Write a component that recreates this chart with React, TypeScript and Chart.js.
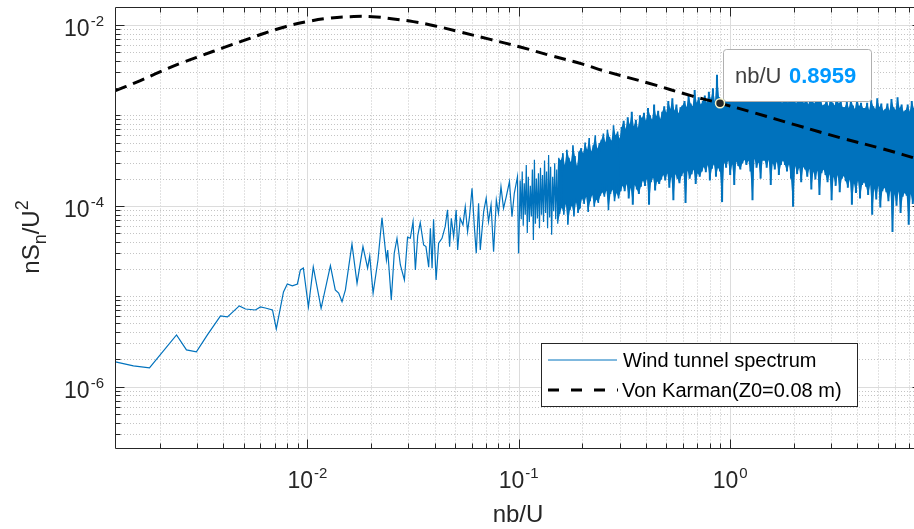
import React, { useEffect, useRef } from "react";
import { Chart, registerables } from "chart.js";

Chart.register(...registerables);

const FONT = '"Liberation Sans", Arial, Helvetica, sans-serif';
const CW = 922;
const CH = 529;

// axis ranges (nb/U and nSn/U^2)
const xRange = [1.23e-3, 8.0];
const yRange = [2.09e-7, 1.56e-2];
const xTickExps = [-2, -1, 0];
const yTickExps = [-6, -4, -2];

// low-frequency part of the wind tunnel spectrum (log10 of nb/U, log10 of nSn/U^2)
const lowFreqExp = [
  -2.908, -2.823, -2.747, -2.619, -2.572, -2.525, -2.473, -2.411, -2.378, -2.322,
  -2.293, -2.246, -2.222, -2.199, -2.165, -2.147, -2.113, -2.095, -2.071, -2.047,
  -2.033, -2.019, -1.995, -1.972, -1.935, -1.891, -1.868, -1.852, -1.836, -1.82,
  -1.789, -1.765, -1.737, -1.715, -1.705, -1.689, -1.666, -1.647, -1.626, -1.62,
  -1.603, -1.589, -1.576, -1.56, -1.541, -1.526, -1.513, -1.5, -1.489, -1.478,
  -1.466, -1.45, -1.439, -1.426, -1.418, -1.41, -1.403, -1.391, -1.379, -1.363,
  -1.348, -1.337, -1.327, -1.319, -1.308, -1.296, -1.289, -1.277, -1.264, -1.253,
  -1.242, -1.233, -1.221, -1.21, -1.201, -1.19, -1.182, -1.166, -1.154, -1.143,
  -1.131, -1.119, -1.106, -1.096, -1.084, -1.072, -1.059, -1.044, -1.032, -1.021,
  -1.006, -1.001,
];
const lowSpecExp = [
  -5.728, -5.772, -5.794, -5.429, -5.595, -5.617, -5.429, -5.219, -5.23, -5.108,
  -5.142, -5.153, -5.119, -5.131, -5.153, -5.363, -4.954, -4.865, -4.887, -4.865,
  -4.71, -4.688, -5.119, -4.677, -5.134, -4.663, -4.931, -4.965, -5.061, -4.931,
  -4.423, -4.857, -4.452, -4.691, -4.555, -4.968, -4.6, -4.132, -4.6, -4.489,
  -5.042, -4.525, -4.36, -4.655, -4.821, -4.348, -4.36, -4.176, -4.71, -4.334,
  -4.187, -4.434, -4.452, -4.68, -4.249, -4.691, -4.149, -4.821, -4.415, -4.36,
  -4.231, -4.046, -4.452, -4.138, -4.342, -4.046, -4.489, -4.138, -4.212, -4.01,
  -4.287, -4.121, -3.806, -4.231, -4.525, -3.972, -4.489, -4.065, -3.917, -4.176,
  -3.991, -4.508, -3.936, -4.083, -3.789, -4.028, -3.899, -3.733, -4.121, -3.862,
  -3.678, -4.525,
];

// dense high-frequency band: frequency bins span bandRange; successive bins alternate peak / trough readings
const bandRange = [0.1016, 7.99];
const bandSolidFrom = 0.15;
const bandPeakExp = [
  -3.72, -3.62, -3.75, -3.55, -3.68, -3.78, -3.6, -3.49, -3.7, -3.64,
  -3.58, -3.66, -3.5, -3.62, -3.44, -3.57, -3.68, -3.53, -3.6, -3.47,
  -3.5, -3.42, -3.55, -3.38, -3.47, -3.52, -3.33, -3.45, -3.56, -3.4,
  -3.36, -3.42, -3.3, -3.38, -3.25, -3.4, -3.33, -3.22, -3.37, -3.31,
  -3.27, -3.2, -3.3, -3.16, -3.24, -3.28, -3.11, -3.22, -3.18, -3.26,
  -3.13, -3.06, -3.15, -3.02, -3.1, -2.96, -3.12, -3.05, -3.14, -3.0,
  -3.03, -2.97, -3.06, -2.92, -3.0, -3.05, -2.88, -3.01, -2.95, -3.04,
  -2.96, -2.9, -2.97, -2.84, -2.93, -2.81, -2.95, -2.88, -2.98, -2.91,
  -2.89, -2.84, -2.91, -2.78, -2.87, -2.9, -2.72, -2.86, -2.8, -2.88,
  -2.84, -2.78, -2.86, -2.74, -2.82, -2.7, -2.85, -2.55, -2.8, -2.83,
  -2.82, -2.77, -2.84, -2.74, -2.8, -2.83, -2.72, -2.79, -2.85, -2.76,
  -2.8, -2.84, -2.76, -2.82, -2.78, -2.85, -2.74, -2.81, -2.79, -2.83,
  -2.83, -2.78, -2.85, -2.76, -2.81, -2.84, -2.75, -2.82, -2.79, -2.86,
  -2.84, -2.79, -2.86, -2.77, -2.83, -2.8, -2.87, -2.76, -2.82, -2.85,
  -2.86, -2.81, -2.88, -2.79, -2.84, -2.87, -2.77, -2.85, -2.82, -2.89,
  -2.88, -2.83, -2.9, -2.8, -2.86, -2.89, -2.78, -2.87, -2.84, -2.91,
  -2.91, -2.85, -2.92, -2.82, -2.89, -2.93, -2.8, -2.9, -2.86, -2.92,
  -2.92, -2.86, -2.94, -2.83, -2.9, -2.93, -2.81, -2.91, -2.87, -2.95,
  -2.93, -2.87, -2.95, -2.82, -2.91, -2.94, -2.8, -2.92, -2.88, -2.96,
  -2.94, -2.88, -2.96, -2.84, -2.92, -2.95, -2.82, -2.93,
];
const bandTroughExp = [
  -4.15, -4.22, -4.1, -4.3, -4.18, -4.12, -4.38, -4.2, -4.14, -4.25,
  -4.1, -4.18, -4.08, -4.25, -4.13, -4.32, -4.06, -4.15, -4.2, -4.09,
  -4.02, -4.1, -3.98, -4.21, -4.05, -4.0, -4.12, -3.96, -4.08, -4.03,
  -3.92, -3.98, -3.9, -4.07, -3.95, -3.88, -4.01, -3.93, -3.97, -3.89,
  -3.85, -3.9, -3.83, -4.05, -3.87, -3.82, -3.95, -3.86, -3.92, -3.84,
  -3.78, -3.84, -3.76, -3.92, -3.8, -3.99, -3.77, -3.82, -3.87, -3.79,
  -3.72, -3.78, -3.7, -3.99, -3.74, -3.69, -3.83, -3.73, -3.76, -3.71,
  -3.66, -3.72, -3.64, -3.8, -3.68, -3.94, -3.65, -3.7, -3.75, -3.67,
  -3.63, -3.97, -3.61, -3.7, -3.65, -3.6, -3.76, -3.64, -3.68, -3.62,
  -3.57, -3.63, -3.55, -3.72, -3.59, -3.54, -3.68, -3.58, -3.62, -3.96,
  -3.52, -3.58, -3.5, -3.66, -3.54, -3.77, -3.51, -3.56, -3.6, -3.53,
  -3.49, -3.55, -3.5, -3.62, -3.94, -3.48, -3.58, -3.52, -3.7, -3.5,
  -3.5, -3.58, -3.49, -3.77, -3.53, -3.6, -3.51, -3.66, -3.55, -3.5,
  -3.55, -3.62, -3.54, -3.7, -4.01, -3.56, -3.65, -3.58, -3.74, -3.57,
  -3.6, -3.68, -3.59, -3.82, -3.62, -3.71, -3.61, -3.88, -3.64, -3.6,
  -3.66, -3.74, -3.65, -3.94, -3.68, -3.78, -3.66, -3.85, -3.7, -3.67,
  -3.73, -3.8, -3.71, -3.99, -3.75, -3.86, -3.72, -3.92, -3.77, -3.74,
  -3.79, -3.88, -3.77, -4.1, -3.81, -3.93, -3.78, -4.02, -3.84, -3.8,
  -3.85, -3.95, -3.83, -4.29, -3.87, -4.0, -3.84, -4.08, -3.9, -3.86,
  -3.89, -4.21, -3.87, -3.98, -3.91, -3.88, -4.12, -3.9,
];

// Von Karman spectrum (Z0 = 0.08 m)
const vonKarmanX = [
  1.236e-3, 1.538e-3, 2.018e-3, 2.559e-3, 3.22e-3, 4.01e-3, 4.98e-3, 6.11e-3, 7.87e-3, 9.98e-3,
  1.256e-2, 1.596e-2, 2.023e-2, 2.553e-2, 3.17e-2, 4.03e-2, 5.28e-2, 7.33e-2, 0.1016, 0.141,
  0.199, 0.261, 0.409, 0.659, 0.8959, 1.243, 2.097, 3.31, 5.29, 8.0,
];
const vonKarmanY = [
  1.876e-3, 2.3e-3, 3.04e-3, 3.83e-3, 4.66e-3, 5.61e-3, 6.7e-3, 7.94e-3, 9.57e-3, 1.089e-2,
  1.186e-2, 1.236e-2, 1.236e-2, 1.165e-2, 1.089e-2, 9.75e-3, 8.37e-3, 6.92e-3, 5.71e-3, 4.6e-3,
  3.71e-3, 3.04e-3, 2.28e-3, 1.64e-3, 1.36e-3, 1.099e-3, 7.69e-4, 5.66e-4, 4.25e-4, 3.21e-4,
];
const tipIndex = 24;
const tipLabel = "nb/U";
const tipValue = "0.8959";
const legendLabels = ["Wind tunnel spectrum", "Von Karman(Z0=0.08 m)"];
const xTitle = "nb/U";

const BLUE = "#0072BD";
const AX = "#262626";
const MAIN_PX = 23;
const SUP_PX = 15;

function drawPow(ctx: CanvasRenderingContext2D, exp: number, x: number, baseline: number, align: "center" | "right") {
  const main = "10";
  const sup = String(exp);
  ctx.font = `${MAIN_PX}px ${FONT}`;
  const w1 = ctx.measureText(main).width;
  ctx.font = `${SUP_PX}px ${FONT}`;
  const w2 = ctx.measureText(sup).width;
  const total = w1 + w2 + 1;
  const start = align === "center" ? x - total / 2 : x - total;
  ctx.fillStyle = AX;
  ctx.textAlign = "left";
  ctx.textBaseline = "alphabetic";
  ctx.font = `${MAIN_PX}px ${FONT}`;
  ctx.fillText(main, start, baseline);
  ctx.font = `${SUP_PX}px ${FONT}`;
  ctx.fillText(sup, start + w1 + 1, baseline - 10.5);
}

const decorPlugin = {
  id: "matlabDecor",
  beforeDatasetsDraw(chart: any) {
    const ctx: CanvasRenderingContext2D = chart.ctx;
    const { left, right, top, bottom } = chart.chartArea;
    const xs = chart.scales.x;
    const ys = chart.scales.y;
    ctx.save();
    ctx.lineWidth = 1;
    ctx.strokeStyle = "#c4c4c4";
    ctx.setLineDash([1, 2]);
    for (let n = -4; n <= 1; n++) {
      for (let k = 1; k <= 9; k++) {
        const v = k * Math.pow(10, n);
        if (v <= xRange[0] || v >= xRange[1]) continue;
        if (k === 1 && xTickExps.includes(n)) continue;
        const p = Math.round(xs.getPixelForValue(v)) + 0.5;
        ctx.beginPath(); ctx.moveTo(p, top); ctx.lineTo(p, bottom); ctx.stroke();
      }
    }
    for (let n = -8; n <= -1; n++) {
      for (let k = 1; k <= 9; k++) {
        const v = k * Math.pow(10, n);
        if (v <= yRange[0] || v >= yRange[1]) continue;
        if (k === 1 && yTickExps.includes(n)) continue;
        const p = Math.round(ys.getPixelForValue(v)) + 0.5;
        ctx.beginPath(); ctx.moveTo(left, p); ctx.lineTo(right, p); ctx.stroke();
      }
    }
    ctx.setLineDash([]);
    ctx.strokeStyle = "#dcdcdc";
    xTickExps.forEach((e) => {
      const p = Math.round(xs.getPixelForValue(Math.pow(10, e))) + 0.5;
      ctx.beginPath(); ctx.moveTo(p, top); ctx.lineTo(p, bottom); ctx.stroke();
    });
    yTickExps.forEach((e) => {
      const p = Math.round(ys.getPixelForValue(Math.pow(10, e))) + 0.5;
      ctx.beginPath(); ctx.moveTo(left, p); ctx.lineTo(right, p); ctx.stroke();
    });
    ctx.restore();
  },
  afterDatasetsDraw(chart: any) {
    const ctx: CanvasRenderingContext2D = chart.ctx;
    const { left, right, top, bottom } = chart.chartArea;
    const xs = chart.scales.x;
    const ys = chart.scales.y;
    ctx.save();
    ctx.setLineDash([]);
    ctx.strokeStyle = AX;
    ctx.lineWidth = 1;
    const L = Math.round(left) + 0.5;
    const B = Math.round(bottom) + 0.5;
    const T = Math.floor(top) + 0.5;
    const R = Math.round(right) + 0.5;
    ctx.beginPath();
    ctx.moveTo(L, T); ctx.lineTo(L, B); ctx.lineTo(R, B); ctx.lineTo(R, T); ctx.closePath();
    ctx.stroke();
    ctx.beginPath();
    for (let n = -4; n <= 1; n++) {
      for (let k = 1; k <= 9; k++) {
        const v = k * Math.pow(10, n);
        if (v <= xRange[0] || v >= xRange[1]) continue;
        const major = k === 1 && xTickExps.includes(n);
        const len = major ? 9 : 5;
        const p = Math.round(xs.getPixelForValue(v)) + 0.5;
        ctx.moveTo(p, B); ctx.lineTo(p, B - len);
        ctx.moveTo(p, T); ctx.lineTo(p, T + len);
      }
    }
    for (let n = -8; n <= -1; n++) {
      for (let k = 1; k <= 9; k++) {
        const v = k * Math.pow(10, n);
        if (v <= yRange[0] || v >= yRange[1]) continue;
        const major = k === 1 && yTickExps.includes(n);
        const len = major ? 9 : 5;
        const p = Math.round(ys.getPixelForValue(v)) + 0.5;
        ctx.moveTo(L, p); ctx.lineTo(L + len, p);
        ctx.moveTo(R, p); ctx.lineTo(R - len, p);
      }
    }
    ctx.stroke();

    xTickExps.forEach((e) => {
      const p = xs.getPixelForValue(Math.pow(10, e));
      drawPow(ctx, e, p, bottom + 40, "center");
    });
    yTickExps.forEach((e) => {
      const p = ys.getPixelForValue(Math.pow(10, e));
      drawPow(ctx, e, left - 11, p + 11.5, "right");
    });

    ctx.fillStyle = AX;
    ctx.font = `24px ${FONT}`;
    ctx.textAlign = "center";
    ctx.textBaseline = "alphabetic";
    ctx.fillText(xTitle, (left + right) / 2, 522);

    // y title: nS_n/U^2
    const yc = 237;
    ctx.save();
    ctx.translate(39, yc);
    ctx.rotate(-Math.PI / 2);
    ctx.textAlign = "left";
    const parts = [
      { t: "nS", size: 24, dy: 0 },
      { t: "n", size: 18, dy: 7 },
      { t: "/U", size: 24, dy: 0 },
      { t: "2", size: 18, dy: -11 },
    ];
    let total = 0;
    parts.forEach((p) => { ctx.font = `${p.size}px ${FONT}`; total += ctx.measureText(p.t).width; });
    let cx = -total / 2;
    parts.forEach((p) => {
      ctx.font = `${p.size}px ${FONT}`;
      ctx.fillText(p.t, cx, p.dy);
      cx += ctx.measureText(p.t).width;
    });
    ctx.restore();
    ctx.restore();
  },
  afterDraw(chart: any) {
    const ctx: CanvasRenderingContext2D = chart.ctx;
    const xs = chart.scales.x;
    const ys = chart.scales.y;
    ctx.save();
    const lx = 541.5, ly = 343.5, lw = 316, lh = 63;
    ctx.fillStyle = "#ffffff";
    ctx.fillRect(lx, ly, lw, lh);
    ctx.strokeStyle = AX;
    ctx.lineWidth = 1;
    ctx.setLineDash([]);
    ctx.strokeRect(lx, ly, lw, lh);
    ctx.strokeStyle = BLUE;
    ctx.lineWidth = 1;
    ctx.beginPath(); ctx.moveTo(548, 360); ctx.lineTo(617, 360); ctx.stroke();
    ctx.strokeStyle = "#000";
    ctx.lineWidth = 3;
    ctx.setLineDash([11, 12]);
    ctx.beginPath(); ctx.moveTo(548, 390); ctx.lineTo(618, 390); ctx.stroke();
    ctx.setLineDash([]);
    ctx.fillStyle = "#000";
    ctx.font = `20px ${FONT}`;
    ctx.textAlign = "left";
    ctx.textBaseline = "alphabetic";
    ctx.fillText(legendLabels[0], 623, 367);
    ctx.fillText(legendLabels[1], 622, 397);

    const mx = xs.getPixelForValue(vonKarmanX[tipIndex]);
    const my = ys.getPixelForValue(vonKarmanY[tipIndex]);
    const bx = Math.round(mx + 3) + 0.5, by = Math.round(my - 54) + 0.5, bw = 148, bh = 52;
    ctx.fillStyle = "#ffffff";
    ctx.strokeStyle = "#b0b0b0";
    ctx.lineWidth = 1;
    ctx.beginPath();
    const r = 3;
    ctx.moveTo(bx + r, by);
    ctx.lineTo(bx + bw - r, by); ctx.arcTo(bx + bw, by, bx + bw, by + r, r);
    ctx.lineTo(bx + bw, by + bh - r); ctx.arcTo(bx + bw, by + bh, bx + bw - r, by + bh, r);
    ctx.lineTo(bx + r, by + bh); ctx.arcTo(bx, by + bh, bx, by + bh - r, r);
    ctx.lineTo(bx, by + r); ctx.arcTo(bx, by, bx + r, by, r);
    ctx.closePath();
    ctx.fill(); ctx.stroke();
    ctx.font = `22px ${FONT}`;
    ctx.fillStyle = "#404040";
    ctx.fillText(tipLabel, mx + 15, my - 20);
    ctx.font = `bold 22px ${FONT}`;
    ctx.fillStyle = "#0099ff";
    ctx.fillText(tipValue, mx + 69, my - 20);
    ctx.beginPath();
    ctx.arc(mx, my, 4.5, 0, Math.PI * 2);
    ctx.fillStyle = "#262626";
    ctx.fill();
    ctx.strokeStyle = "#f8f4c8";
    ctx.lineWidth = 1.5;
    ctx.stroke();
    ctx.restore();
  },
};

export default function App() {
  const ref = useRef<HTMLCanvasElement>(null);
  useEffect(() => {
    const canvas = ref.current;
    if (!canvas) return;
    const low = lowFreqExp.map((e, i) => ({ x: Math.pow(10, e), y: Math.pow(10, lowSpecExp[i]) }));
    const band = [low[low.length - 1]];
    const peaks: { x: number; y: number }[] = [];
    const troughs: { x: number; y: number }[] = [];
    const nBand = bandPeakExp.length + bandTroughExp.length;
    const l0 = Math.log10(bandRange[0]);
    const l1 = Math.log10(bandRange[1]);
    for (let j = 0; j < nBand; j++) {
      const f = Math.pow(10, l0 + (j * (l1 - l0)) / (nBand - 1));
      const isPeak = j % 2 === 0;
      const e = isPeak ? bandPeakExp[j / 2] : bandTroughExp[(j - 1) / 2];
      const pt = { x: f, y: Math.pow(10, e) };
      band.push(pt);
      if (f >= bandSolidFrom) (isPeak ? peaks : troughs).push(pt);
    }
    const vk = vonKarmanX.map((x, i) => ({ x, y: vonKarmanY[i] }));
    const chart = new Chart(canvas, {
      type: "line",
      data: {
        datasets: [
          {
            label: legendLabels[0],
            data: low,
            borderColor: BLUE,
            borderWidth: 1.2,
            pointRadius: 0,
            tension: 0,
            order: 4,
          },
          {
            label: "band",
            data: band,
            borderColor: BLUE,
            borderWidth: 1.2,
            pointRadius: 0,
            tension: 0,
            order: 1,
            segment: {
              borderWidth: (c: any) => {
                const f = c.p0.parsed.x;
                return f < 0.16 ? 1.2 : f < 0.3 ? 1.6 : 2;
              },
            },
          },
          {
            label: "band upper",
            data: peaks,
            borderWidth: 0,
            borderColor: "rgba(0,0,0,0)",
            backgroundColor: BLUE,
            pointRadius: 0,
            tension: 0,
            fill: "+1",
            order: 2,
          },
          {
            label: "band lower",
            data: troughs,
            borderWidth: 0,
            borderColor: "rgba(0,0,0,0)",
            pointRadius: 0,
            tension: 0,
            fill: false,
            order: 3,
          },
          {
            label: legendLabels[1],
            data: vk,
            borderColor: "#000000",
            borderWidth: 3,
            borderDash: [12, 7],
            pointRadius: 0,
            tension: 0.4,
            order: 0,
          },
        ],
      },
      options: {
        responsive: false,
        animation: false,
        devicePixelRatio: 1,
        events: [],
        layout: { padding: { left: 115, top: 7.5, right: CW - 921, bottom: CH - 448 } },
        scales: {
          x: { type: "logarithmic", min: xRange[0], max: xRange[1], display: false },
          y: { type: "logarithmic", min: yRange[0], max: yRange[1], display: false },
        },
        plugins: { legend: { display: false }, tooltip: { enabled: false } },
      },
      plugins: [decorPlugin],
    } as any);
    return () => chart.destroy();
  }, []);
  return (
    <div style={{ position: "absolute", left: 0, top: 0, width: 914, height: 529, overflow: "hidden", background: "#fff" }}>
      <canvas ref={ref} width={CW} height={CH} style={{ width: CW, height: CH, display: "block" }} />
    </div>
  );
}
